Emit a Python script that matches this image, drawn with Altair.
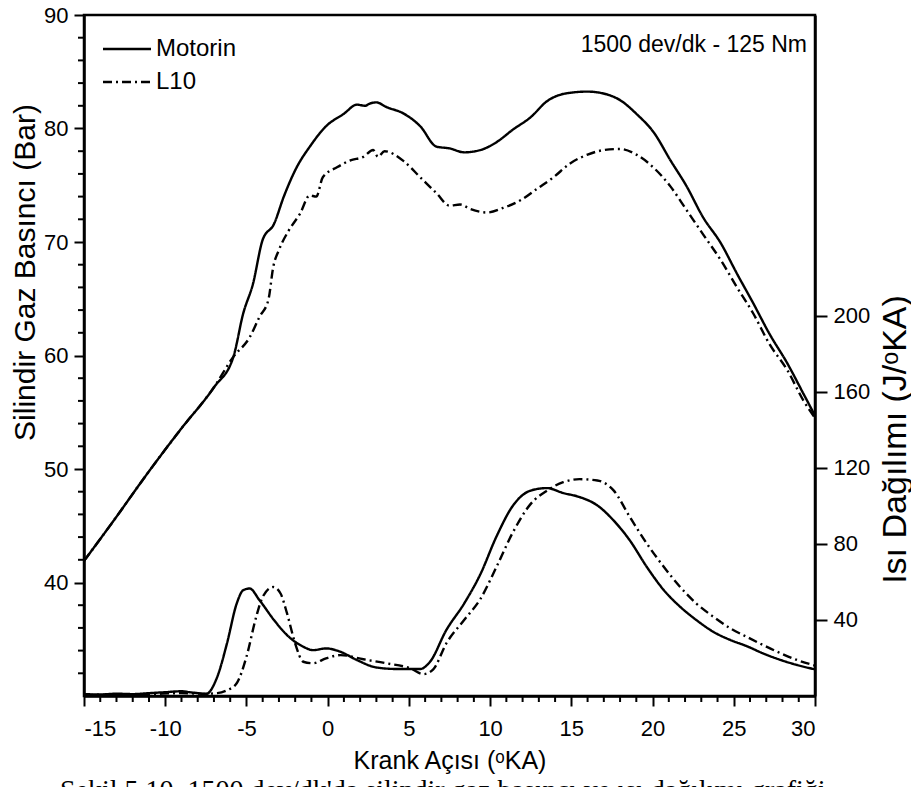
import altair as alt
import pandas as pd

# ---------------- data ----------------
crank_common = [-15.0, -13.2, -11.1, -9.1, -7.0, -5.8]
press_common = [41.9, 45.4, 49.6, 53.4, 57.2, 59.9]

motorin_p_x = [-5.2, -4.6, -4.0, -3.3, -2.7, -1.9, -1.1, -0.1, 1.0, 1.8, 2.3, 2.6, 3.0,
               3.6, 4.7, 5.7, 6.7, 7.5, 8.4, 9.4, 10.4, 11.4, 12.5, 13.5, 14.7, 16.0,
               17.2, 18.0, 19.0, 20.1, 21.1, 22.1, 23.1, 24.2, 25.2, 26.2, 27.2, 28.3,
               29.3, 30.0]
motorin_p = [63.7, 66.3, 70.2, 71.6, 74.0, 76.6, 78.4, 80.2, 81.3, 82.1, 82.0, 82.2, 82.3,
             81.9, 81.3, 80.2, 78.4, 78.25, 77.9, 78.1, 78.8, 79.9, 81.0, 82.4, 83.1, 83.25,
             83.0, 82.5, 81.3, 79.6, 77.2, 74.9, 72.2, 69.9, 67.2, 64.6, 61.9, 59.3,
             56.6, 54.7]

l10_p_x = [-4.8, -4.2, -3.65, -3.35, -3.0, -2.4, -1.7, -1.1, -0.7, -0.3, 0.6, 1.4, 2.2,
           2.8, 3.1, 3.5, 4.7, 5.7, 6.7, 7.5, 8.15, 8.8, 9.8, 10.8, 11.9, 12.9, 13.9,
           14.9, 16.0, 17.0, 18.0, 19.0, 20.1, 21.1, 22.1, 23.1, 24.2, 25.2, 26.2, 27.2,
           28.3, 29.3, 30.0]
l10_p = [61.6, 63.4, 64.9, 67.8, 69.3, 71.0, 72.5, 74.1, 74.0, 75.7, 76.6, 77.2, 77.5,
         78.1, 77.5, 78.0, 77.1, 75.7, 74.3, 73.2, 73.3, 72.9, 72.6, 73.0, 73.7, 74.7, 75.7,
         76.9, 77.7, 78.1, 78.2, 77.7, 76.5, 74.9, 72.8, 70.7, 68.4, 66.0, 63.7, 61.0,
         58.7, 56.0, 54.5]

motorin_q_x = [-15, -14, -13, -12, -11, -10, -9, -8.5, -8, -7.5, -6.8, -6.2, -5.6, -5.2,
               -4.8, -4.2, -3.3, -2.5, -1.5, -0.9, -0.1, 0.8, 1.8, 3.0, 4.25, 5.7, 6.3,
               7.3, 8.4, 9.4, 10.4, 11.4, 12.5, 13.5, 14.5, 15.5, 16.6, 17.6, 18.6, 19.65,
               20.7, 21.7, 22.7, 23.75, 24.8, 25.8, 26.8, 27.9, 28.9, 30.0]
motorin_q = [1.0, 0.8, 1.2, 1.0, 1.5, 2.0, 2.5, 2.0, 1.5, 1.0, 10.0, 27.6, 48.6, 55.6,
             56.5, 50.4, 39.9, 32.0, 25.9, 24.1, 25.0, 23.2, 18.9, 15.0, 14.2, 14.2, 18.0,
             34.6, 48.6, 64.0, 84.0, 100.0, 108.0, 109.3, 106.7, 104.6, 100.2, 92.3, 81.8, 67.8,
             55.6, 46.9, 39.9, 33.7, 29.4, 26.2, 22.4, 18.9, 16.3, 14.0]

l10_q_x = [-15, -13, -11, -9, -7.5, -6.8, -6.2, -5.6, -5.0, -4.4, -4.0, -3.35, -2.9, -2.5,
           -2.0, -1.5, -0.9, -0.1, 0.8, 2.2, 3.6, 5.1, 5.9, 6.5, 7.3, 8.4, 9.4, 10.4, 11.4,
           12.5, 13.5, 14.5, 15.5, 16.6, 17.6, 18.6, 19.65, 20.7, 21.7, 22.7, 23.75, 24.8,
           25.8, 26.8, 27.9, 28.9, 30.0]
l10_q = [0.5, 0.8, 1.0, 1.5, 1.2, 1.5, 3.0, 6.7, 20.6, 41.6, 52.1, 57.3, 53.9, 43.4,
         27.6, 18.0, 17.2, 19.8, 21.5, 19.3, 17.2, 14.5, 11.5, 14.0, 27.6, 39.9, 51.0, 68.0, 86.0,
         101.0, 108.0, 112.4, 114.0, 113.3, 108.1, 94.1, 80.1, 67.8, 57.3, 48.6, 41.6, 35.5,
         31.1, 26.8, 22.4, 18.9, 16.0]

series_names = ["Motorin", "L10"]
x_major = [-15, -10, -5, 0, 5, 10, 15, 20, 25, 30]
x_minor = [v for v in range(-14, 30) if v % 5 != 0]
yl_major = [40, 50, 60, 70, 80, 90]
yl_minor = [v for v in range(32, 90, 2) if v % 10 != 0]
yr_major = [40, 80, 120, 160, 200]

# ---------------- tables ----------------
p_df = pd.concat([
    pd.DataFrame({"x": crank_common + motorin_p_x, "p": press_common + motorin_p, "series": "Motorin"}),
    pd.DataFrame({"x": crank_common + l10_p_x, "p": press_common + l10_p, "series": "L10"}),
])
q_df = pd.concat([
    pd.DataFrame({"x": motorin_q_x, "q": motorin_q, "series": "Motorin"}),
    pd.DataFrame({"x": l10_q_x, "q": l10_q, "series": "L10"}),
])
xminor_df = pd.DataFrame({"x": x_minor})

W, H = 731, 681
FONT = "Liberation Sans"
DASH = [9, 4, 2, 4]
LW = 2.4

x_scale = alt.Scale(domain=[-15, 30], nice=False, zero=False)
yl_scale = alt.Scale(domain=[30, 90], nice=False, zero=False)
yr_scale = alt.Scale(domain=[0, 358], nice=False, zero=False)
dash_scale = alt.Scale(domain=series_names, range=[[1, 0], DASH])

x_axis = alt.Axis(values=x_major, title="Krank Açısı (ᵒKA)", tickSize=10, labelPadding=12,
                  titlePadding=9, labelExpr="'' + datum.value", titleFontSize=25)
X = alt.X("x:Q", scale=x_scale, axis=x_axis)

press = alt.Chart(p_df).mark_line(color="black", strokeWidth=LW, interpolate="monotone").encode(
    x=X,
    y=alt.Y("p:Q", scale=yl_scale, axis=alt.Axis(
        orient="left", values=yl_major, title="Silindir Gaz Basıncı (Bar)", tickSize=10,
        labelPadding=6, titleAngle=270, titleX=-59, titleY=257, titleAlign="center",
        titleBaseline="middle", titleFontSize=30)),
    strokeDash=alt.StrokeDash("series:N", scale=dash_scale, legend=None),
    detail="series:N",
)

hrr = alt.Chart(q_df).mark_line(color="black", strokeWidth=LW, interpolate="monotone").encode(
    x=X,
    y=alt.Y("q:Q", scale=yr_scale, axis=alt.Axis(
        orient="right", values=yr_major, title="Isı Dağılımı (J/ᵒKA)", tickSize=12,
        labelPadding=6, titleAngle=270, titleX=80, titleY=424, titleAlign="center",
        titleBaseline="middle", titleFontSize=34)),
    strokeDash=alt.StrokeDash("series:N", scale=dash_scale, legend=None),
    detail="series:N",
)

yl_minor_ticks = alt.Chart(pd.DataFrame({"v": yl_minor})).mark_rule(color="black", strokeWidth=2).encode(
    y=alt.Y("v:Q", scale=yl_scale, axis=None), x=alt.value(0), x2=alt.value(-6))
x_minor_ticks = alt.Chart(xminor_df).mark_rule(color="black", strokeWidth=2).encode(
    x=X, y=alt.value(H), y2=alt.value(H + 6))

one = pd.DataFrame({"a": [0]})
deco = []
for i, (name, dash) in enumerate(zip(series_names, [[1, 0], DASH])):
    yy = 34 + 33 * i
    deco.append(alt.Chart(one).mark_rule(color="black", strokeWidth=LW, strokeDash=dash).encode(
        x=alt.value(19), x2=alt.value(67), y=alt.value(yy)))
    deco.append(alt.Chart(one).mark_text(text=name, align="left", baseline="middle",
                                         font=FONT, fontSize=24, color="black").encode(
        x=alt.value(72), y=alt.value(yy)))

deco.append(alt.Chart(one).mark_text(text="1500 dev/dk - 125 Nm", align="right", baseline="middle",
                                     font=FONT, fontSize=23, color="black").encode(
    x=alt.value(723), y=alt.value(30)))

deco.append(alt.Chart(one).mark_text(
    text="Şekil 5.10. 1500 dev/dk'da silindir gaz basıncı ve ısı dağılımı grafiği",
    align="left", baseline="alphabetic", font="Liberation Serif", fontSize=28, color="black").encode(
    x=alt.value(-24), y=alt.value(784)))

chart = alt.layer(press, hrr, yl_minor_ticks, x_minor_ticks, *deco).resolve_scale(
    y="independent").properties(
    width=W, height=H,
    autosize=alt.AutoSizeParams(type="none"),
    padding={"left": 84, "top": 15, "right": 96, "bottom": 91},
    background="white",
).configure_view(stroke="black", strokeWidth=2.5).configure_axis(
    domainColor="black", domainWidth=2.5, tickColor="black", tickWidth=2,
    labelFont=FONT, labelFontSize=22, labelColor="black",
    titleFont=FONT, titleFontWeight="normal", titleColor="black", grid=False,
)

chart.save("out.html", embed_options={"renderer": "svg", "actions": False})
